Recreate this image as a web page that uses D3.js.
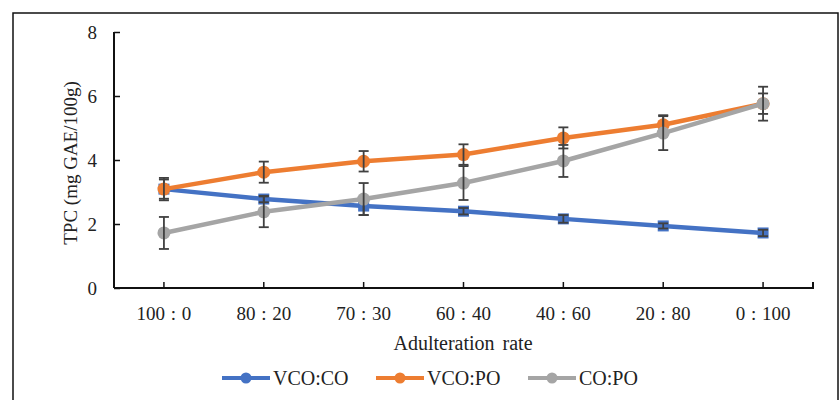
<!DOCTYPE html>
<html>
<head>
<meta charset="utf-8">
<script src="https://cdn.jsdelivr.net/npm/d3@7"></script>
<style>
  body { margin: 0; background: #fff; }
  svg text { font-family: "Liberation Serif", "DejaVu Serif", serif; fill: #222; }
</style>
</head>
<body>
<svg width="840" height="400"></svg>
<script>
// chart data
const categories = ["100 : 0", "80 : 20", "70 : 30", "60 : 40", "40 : 60", "20 : 80", "0 : 100"];
const seriesNames = ["VCO:CO", "VCO:PO", "CO:PO"];
const colors = ["#4472C4", "#ED7D31", "#A5A5A5"];
const vcoCo = [3.09, 2.78, 2.56, 2.40, 2.16, 1.94, 1.72];
const vcoCoErr = [0.30, 0.10, 0.28, 0.10, 0.12, 0.08, 0.10];
const vcoPo = [3.09, 3.62, 3.96, 4.17, 4.69, 5.10, 5.76];
const vcoPoErr = [0.35, 0.33, 0.32, 0.32, 0.33, 0.30, 0.32];
const coPo = [1.72, 2.38, 2.78, 3.28, 3.97, 4.84, 5.76];
const coPoErr = [0.50, 0.48, 0.50, 0.53, 0.50, 0.53, 0.53];
const yTicks = [0, 2, 4, 6, 8];

const values = [vcoCo, vcoPo, coPo];
const errs = [vcoCoErr, vcoPoErr, coPoErr];

let svg = d3.select("svg");

// outer frame
svg.append("rect")
    .attr("x", 13).attr("y", 13)
    .attr("width", 825).attr("height", 400)
    .attr("fill", "none")
    .attr("stroke", "#111")
    .attr("stroke-width", 1.5);

const plotLeft = 114, plotRight = 813, plotTop = 32, plotBottom = 288;

let x = d3.scaleBand().domain(categories).range([plotLeft, plotRight]);
let y = d3.scaleLinear().domain([0, 8]).range([plotBottom, plotTop]);

// y axis
let yAxis = svg.append("g")
    .attr("transform", "translate(" + plotLeft + ",0)")
    .call(d3.axisLeft(y).tickValues(yTicks).tickSize(-6).tickPadding(17).tickFormat(d3.format("d")));
yAxis.select(".domain").attr("stroke", "#111").attr("stroke-width", 2)
    .attr("d", "M0," + plotTop + "V" + plotBottom);
yAxis.selectAll(".tick line").attr("stroke", "#111").attr("stroke-width", 1.5);
yAxis.selectAll("text").attr("font-size", 19).attr("fill", "#222");

// x axis
let xAxis = svg.append("g")
    .attr("transform", "translate(0," + plotBottom + ")")
    .call(d3.axisBottom(x).tickSize(-6));
xAxis.select(".domain").attr("stroke", "#111").attr("stroke-width", 2)
    .attr("d", "M" + plotLeft + ",0H" + plotRight + "V-6");
xAxis.selectAll(".tick line").attr("stroke", "#111").attr("stroke-width", 1.5);
xAxis.selectAll("text").attr("font-size", 19).attr("fill", "#222")
    .attr("y", 32).attr("dy", 0).attr("word-spacing", 1);

// axis titles
svg.append("text")
    .attr("x", 463).attr("y", 350)
    .attr("text-anchor", "middle")
    .attr("font-size", 20)
    .attr("word-spacing", 3)
    .text("Adulteration rate");

svg.append("text")
    .attr("transform", "translate(77,163) rotate(-90)")
    .attr("text-anchor", "middle")
    .attr("font-size", 19)
    .text("TPC (mg GAE/100g)");

const cx = d => x(d) + x.bandwidth() / 2;

let line = d3.line()
    .x((d, i) => cx(categories[i]))
    .y(d => y(d));

// draw each series: line, error bars, markers
values.forEach((vals, s) => {
    let g = svg.append("g");
    g.append("path")
        .datum(vals)
        .attr("fill", "none")
        .attr("stroke", colors[s])
        .attr("stroke-width", 4.5)
        .attr("stroke-linejoin", "round")
        .attr("d", line);

    g.selectAll(".marker")
        .data(vals)
        .enter().append(s === 0 ? "rect" : "circle")
        .attr("class", "marker")
        .attr("fill", colors[s])
        .each(function (d, i) {
            let el = d3.select(this);
            if (s === 0) {
                el.attr("x", cx(categories[i]) - 5.5).attr("y", y(d) - 5.5)
                  .attr("width", 11).attr("height", 11);
            } else {
                el.attr("cx", cx(categories[i])).attr("cy", y(d)).attr("r", 6.5);
            }
        });

    let eb = g.selectAll(".err")
        .data(vals)
        .enter().append("g")
        .attr("class", "err")
        .attr("stroke", "#404040")
        .attr("stroke-width", 1.8);
    eb.append("line")
        .attr("x1", (d, i) => cx(categories[i])).attr("x2", (d, i) => cx(categories[i]))
        .attr("y1", (d, i) => y(d + errs[s][i])).attr("y2", (d, i) => y(d - errs[s][i]));
    eb.append("line")
        .attr("x1", (d, i) => cx(categories[i]) - 5).attr("x2", (d, i) => cx(categories[i]) + 5)
        .attr("y1", (d, i) => y(d + errs[s][i])).attr("y2", (d, i) => y(d + errs[s][i]));
    eb.append("line")
        .attr("x1", (d, i) => cx(categories[i]) - 5).attr("x2", (d, i) => cx(categories[i]) + 5)
        .attr("y1", (d, i) => y(d - errs[s][i])).attr("y2", (d, i) => y(d - errs[s][i]));
});

// legend
const legendX = [222, 376, 528];
let legend = svg.append("g");
seriesNames.forEach((name, s) => {
    let lg = legend.append("g").attr("transform", "translate(" + legendX[s] + ",378)");
    lg.append("line").attr("x1", 0).attr("x2", 48).attr("y1", 0).attr("y2", 0)
        .attr("stroke", colors[s]).attr("stroke-width", 4);
    lg.append("circle").attr("cx", 24).attr("cy", 0).attr("r", 5.5).attr("fill", colors[s]);
    lg.append("text").attr("x", 51).attr("y", 7).attr("font-size", 20).text(name);
});
</script>
</body>
</html>
